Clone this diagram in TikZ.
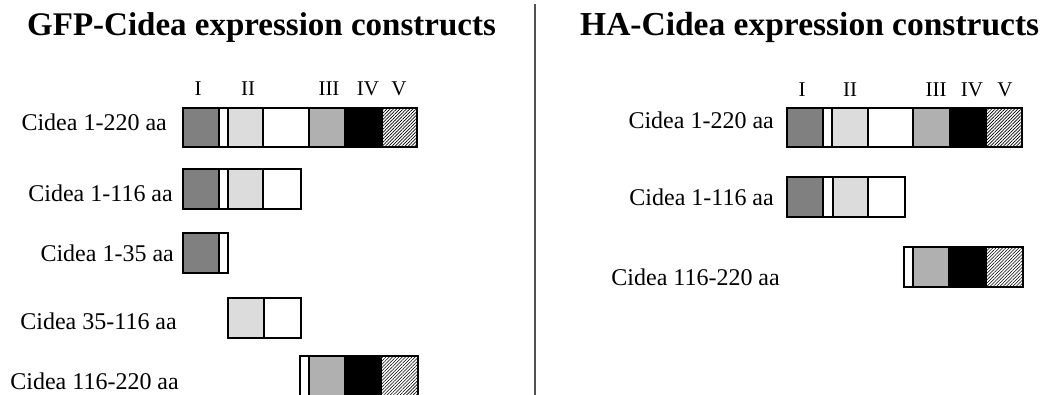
\documentclass[tikz,border=0pt]{standalone}
\usepackage{fontspec}
\setmainfont{Liberation Serif}
\usetikzlibrary{patterns.meta}
\definecolor{cdark}{HTML}{808080}
\definecolor{clight}{HTML}{DCDCDC}
\definecolor{cmid}{HTML}{B0B0B0}
\tikzset{
  seg/.style={draw=black,line width=1.3pt},
  dk/.style={seg,fill=cdark},
  wh/.style={seg,fill=white},
  lt/.style={seg,fill=clight},
  md/.style={seg,fill=cmid},
  bk/.style={seg,fill=black},
  hx/.style={seg,pattern={Lines[angle=45,distance=2.3pt,line width=0.6pt]}},
  lbl/.style={anchor=base east,inner sep=0pt,font=\fontsize{24}{28}\selectfont},
  num/.style={anchor=base,inner sep=0pt,font=\fontsize{21}{24}\selectfont},
  ttl/.style={anchor=base west,inner sep=0pt,font=\fontsize{33.5}{40}\selectfont\bfseries},
}
\begin{document}
\begin{tikzpicture}[x=1pt,y=-1pt]
\useasboundingbox (0,0) rectangle (1045,395);
% titles
\node[ttl,font=\fontsize{33}{40}\selectfont\bfseries] (t1) at (27,36) {GFP-Cidea expression constructs};
\node[ttl] (t2) at (580,36) {HA-Cidea expression constructs};
% divider
\draw[color=black!68,line width=2pt] (535,4) -- (535,395);
% numerals left
\node[num] (l1) at (198,96) {I};
\node[num] (l2) at (248,96) {II};
\node[num] (l3) at (329,96) {III};
\node[num] (l4) at (368,96) {IV};
\node[num] (l5) at (399,96) {V};
% numerals right
\node[num] (r1) at (802,97) {I};
\node[num] (r2) at (850,97) {II};
\node[num] (r3) at (936,97) {III};
\node[num] (r4) at (972,97) {IV};
\node[num] (r5) at (1005,97) {V};
% left labels
\node[lbl] (a1) at (167,131) {Cidea 1-220 aa};
\node[lbl] (a2) at (173,202) {Cidea 1-116 aa};
\node[lbl] (a3) at (174,262) {Cidea 1-35 aa};
\node[lbl] (a4) at (177,330) {Cidea 35-116 aa};
\node[lbl] (a5) at (179,390) {Cidea 116-220 aa};
% right labels
\node[lbl] (b1) at (774,129) {Cidea 1-220 aa};
\node[lbl] (b2) at (774,206) {Cidea 1-116 aa};
\node[lbl] (b3) at (780,286) {Cidea 116-220 aa};
% left row 1
\draw[dk] (183,108) rectangle (219,147);
\draw[wh] (219,108) rectangle (228,147);
\draw[lt] (228,108) rectangle (263,147);
\draw[wh] (263,108) rectangle (309,147);
\draw[md] (309,108) rectangle (345,147);
\draw[bk] (345,108) rectangle (382,147);
\draw[hx] (382,108) rectangle (417,147);
% left row 2
\draw[dk] (183,169) rectangle (219,209);
\draw[wh] (219,169) rectangle (228,209);
\draw[lt] (228,169) rectangle (263,209);
\draw[wh] (263,169) rectangle (301,209);
% left row 3
\draw[dk] (183,233) rectangle (219,273);
\draw[wh] (219,233) rectangle (228,273);
% left row 4
\draw[lt] (228,298) rectangle (264,338);
\draw[wh] (264,298) rectangle (301,338);
% left row 5
\draw[wh] (300,356) rectangle (309,397);
\draw[md] (309,356) rectangle (345,397);
\draw[bk] (345,356) rectangle (381,397);
\draw[hx] (381,356) rectangle (418,397);
% right row 1
\draw[dk] (787,108) rectangle (823,147);
\draw[wh] (823,108) rectangle (832,147);
\draw[lt] (832,108) rectangle (868,147);
\draw[wh] (868,108) rectangle (913,147);
\draw[md] (913,108) rectangle (950,147);
\draw[bk] (950,108) rectangle (986,147);
\draw[hx] (986,108) rectangle (1022,147);
% right row 2
\draw[dk] (787,177) rectangle (823,217);
\draw[wh] (823,177) rectangle (833,217);
\draw[lt] (833,177) rectangle (868,217);
\draw[wh] (868,177) rectangle (905,217);
% right row 3
\draw[wh] (904,247) rectangle (913,287);
\draw[md] (913,247) rectangle (949,287);
\draw[bk] (949,247) rectangle (986,287);
\draw[hx] (986,247) rectangle (1023,287);
\end{tikzpicture}
\end{document}
